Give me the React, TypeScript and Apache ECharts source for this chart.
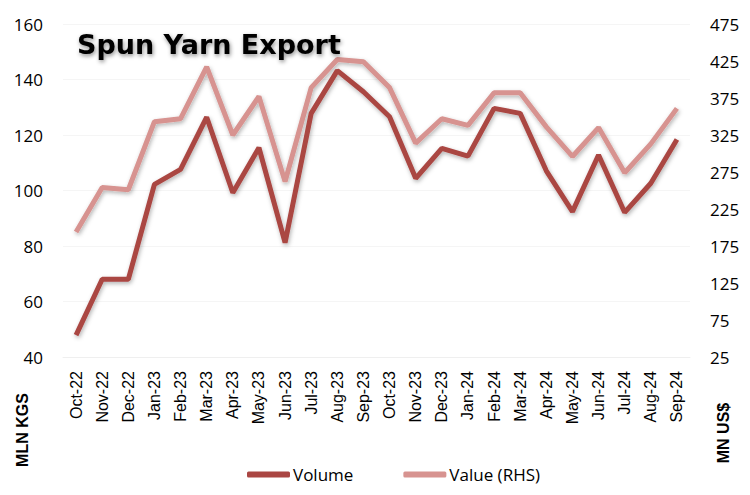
import React, { useEffect, useRef } from "react";
import * as echarts from "echarts";

const categories = [
  "Oct-22", "Nov-22", "Dec-22", "Jan-23", "Feb-23", "Mar-23", "Apr-23", "May-23",
  "Jun-23", "Jul-23", "Aug-23", "Sep-23", "Oct-23", "Nov-23", "Dec-23", "Jan-24",
  "Feb-24", "Mar-24", "Apr-24", "May-24", "Jun-24", "Jul-24", "Aug-24", "Sep-24",
];
const volume = [
  47.9, 68, 68, 102.2, 107.6, 126.4, 99.2, 115.4, 81.2, 127.8, 143.2, 135.6,
  126.6, 104.4, 115.2, 112.4, 129.6, 127.8, 107.1, 92.4, 112.8, 92.1, 102.6, 118.4,
];
const valueRHS = [
  194, 254, 251, 343, 347, 417, 325, 377, 262, 389, 427, 424,
  389, 314, 347, 338, 382, 382, 336, 296, 335, 274, 313, 361,
];
const leftTicks = { min: 40, max: 160, interval: 20 };
const rightTicks = { min: 25, max: 475, interval: 50 };

export default function App() {
  const ref = useRef<HTMLDivElement>(null);
  useEffect(() => {
    if (!ref.current) return;
    const chart = echarts.init(ref.current, null, { renderer: "svg" });
    const labelFont = "'Open Sans', sans-serif";
    chart.setOption({
      animation: false,
      backgroundColor: "#ffffff",
      grid: { left: 63, right: 60, top: 24, bottom: 138 },
      legend: {
        left: 242,
        top: 461,
        itemWidth: 43,
        itemHeight: 6,
        itemGap: 50,
        icon: "roundRect",
        textStyle: { fontFamily: labelFont, fontSize: 17, color: "#000", padding: [0, 0, 0, -2] },
        data: ["Volume", "Value (RHS)"],
      },
      xAxis: {
        type: "category",
        data: categories,
        boundaryGap: true,
        axisLine: { show: true, lineStyle: { color: "#EFEFEF", width: 1 } },
        axisTick: { show: false },
        axisLabel: {
          rotate: 90,
          margin: 14,
          interval: 0,
          fontFamily: "'Liberation Sans', Arial, sans-serif",
          fontSize: 16,
          color: "#000",
        },
      },
      yAxis: [
        {
          type: "value",
          ...leftTicks,
          position: "left",
          axisLine: { show: false },
          axisTick: { show: false },
          splitLine: { show: true, lineStyle: { color: "#F5F5F5", width: 1 } },
          axisLabel: { margin: 20, fontFamily: labelFont, fontSize: 17, color: "#000" },
        },
        {
          type: "value",
          ...rightTicks,
          position: "right",
          axisLine: { show: false },
          axisTick: { show: false },
          splitLine: { show: false },
          axisLabel: { margin: 20, fontFamily: labelFont, fontSize: 17, color: "#000" },
        },
      ],
      series: [
        {
          name: "Value (RHS)",
          type: "line",
          yAxisIndex: 1,
          data: valueRHS,
          symbol: "none",
          color: "#D79390",
          lineStyle: {
            width: 5,
            color: "#D79390",
            shadowColor: "rgba(0,0,0,0.3)",
            shadowBlur: 4,
            shadowOffsetX: 1,
            shadowOffsetY: 2,
          },
        },
        {
          name: "Volume",
          type: "line",
          yAxisIndex: 0,
          data: volume,
          symbol: "none",
          color: "#AA4643",
          lineStyle: {
            width: 5,
            color: "#AA4643",
            shadowColor: "rgba(0,0,0,0.3)",
            shadowBlur: 4,
            shadowOffsetX: 1,
            shadowOffsetY: 2,
          },
        },
      ],
      graphic: [
        {
          type: "text",
          left: 77,
          top: 31,
          z: 100,
          style: {
            text: "Spun Yarn Export",
            font: "bold 27px 'DejaVu Sans', sans-serif",
            fill: "#000",
            textShadowColor: "rgba(0,0,0,0.45)",
            textShadowBlur: 4,
            textShadowOffsetX: 1,
            textShadowOffsetY: 2,
          },
        },
        {
          type: "text",
          x: 22,
          y: 430,
          rotation: Math.PI / 2,
          style: {
            text: "MLN KGS",
            font: "bold 16px 'Liberation Sans', Arial, sans-serif",
            fill: "#000",
            align: "center",
            verticalAlign: "middle",
          },
        },
        {
          type: "text",
          x: 723,
          y: 433,
          rotation: Math.PI / 2,
          style: {
            text: "MN US$",
            font: "bold 16px 'Liberation Sans', Arial, sans-serif",
            fill: "#000",
            align: "center",
            verticalAlign: "middle",
          },
        },
      ],
    });
    return () => chart.dispose();
  }, []);
  return <div ref={ref} style={{ width: 750, height: 495, position: "absolute", left: 0, top: 0 }} />;
}
